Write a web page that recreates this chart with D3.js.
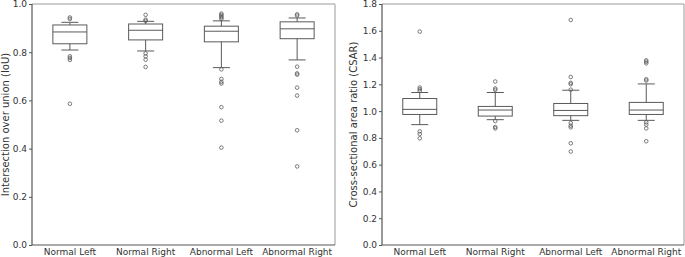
<!DOCTYPE html>
<html lang="en">
<head>
<meta charset="utf-8">
<title>IoU / CSAR boxplots</title>
<script src="https://d3js.org/d3.v7.min.js"></script>
<style>
  body { margin: 0; background: #fff; }
  svg text { font-family: "DejaVu Sans", sans-serif; }
  .tick text { fill: #333; font-size: 9px; }
  .axis path.domain { display: none; }
  .axis .tick line { stroke: #555; }
</style>
</head>
<body>
<script>
// categories
const groups = ["Normal Left", "Normal Right", "Abnormal Left", "Abnormal Right"];

// IoU: [lower whisker, Q1, median, Q3, upper whisker]
const iouStats = [
  [0.809, 0.835, 0.884, 0.913, 0.924],
  [0.805, 0.851, 0.891, 0.917, 0.928],
  [0.736, 0.843, 0.887, 0.908, 0.930],
  [0.768, 0.856, 0.897, 0.926, 0.942]
];
const iouOutliers = [
  [0.944, 0.938, 0.783, 0.776, 0.768, 0.586],
  [0.955, 0.935, 0.930, 0.795, 0.783, 0.769, 0.739],
  [0.960, 0.955, 0.949, 0.944, 0.938, 0.729, 0.689, 0.677, 0.670, 0.572, 0.516, 0.404],
  [0.957, 0.952, 0.740, 0.712, 0.707, 0.653, 0.620, 0.476, 0.326]
];

// CSAR
const csarStats = [
  [0.899, 0.975, 1.013, 1.094, 1.139],
  [0.936, 0.963, 1.008, 1.035, 1.139],
  [0.931, 0.966, 1.005, 1.057, 1.156],
  [0.931, 0.975, 1.008, 1.065, 1.203]
];
const csarOutliers = [
  [1.594, 1.176, 1.164, 1.151, 0.849, 0.829, 0.797],
  [1.221, 1.169, 1.159, 0.926, 0.881, 0.871],
  [1.681, 1.255, 1.211, 1.201, 1.160, 0.911, 0.891, 0.879, 0.760, 0.698],
  [1.379, 1.369, 1.357, 1.238, 1.228, 0.916, 0.899, 0.871, 0.775]
];

const iouTicks = [0, 0.2, 0.4, 0.6, 0.8, 1.0];
const csarTicks = [0, 0.2, 0.4, 0.6, 0.8, 1.0, 1.2, 1.4, 1.6, 1.8];

const W = 685, H = 257;
const svg = d3.select("body").append("svg")
  .attr("width", W).attr("height", H);

function boxPanel(x0, x1, yMax, ticks, stats, outliers, title, titleX) {
  const top = 4, bottom = 245;
  const x = d3.scaleBand().domain(groups).range([x0, x1]).padding(0);
  const y = d3.scaleLinear().domain([0, yMax]).range([bottom, top]);
  const g = svg.append("g");
  const boxW = 34, capW = 17;
  const col = "#5a5a5a";

  // frame
  g.append("line").attr("x1", x0).attr("x2", x1).attr("y1", top).attr("y2", top)
    .attr("stroke", "#bbb").attr("stroke-width", 1.5);
  g.append("line").attr("x1", x1).attr("x2", x1).attr("y1", top).attr("y2", bottom)
    .attr("stroke", "#bbb").attr("stroke-width", 1.5);

  groups.forEach((name, i) => {
    const cx = x(name) + x.bandwidth() / 2;
    const s = stats[i];
    const b = g.append("g");
    // whiskers
    b.append("line").attr("x1", cx).attr("x2", cx).attr("y1", y(s[0])).attr("y2", y(s[1]))
      .attr("stroke", col);
    b.append("line").attr("x1", cx).attr("x2", cx).attr("y1", y(s[3])).attr("y2", y(s[4]))
      .attr("stroke", col);
    // caps
    [s[0], s[4]].forEach(v => {
      b.append("line").attr("x1", cx - capW / 2).attr("x2", cx + capW / 2)
        .attr("y1", y(v)).attr("y2", y(v)).attr("stroke", col);
    });
    // box
    b.append("rect").attr("x", cx - boxW / 2).attr("width", boxW)
      .attr("y", y(s[3])).attr("height", y(s[1]) - y(s[3]))
      .attr("fill", "none").attr("stroke", col);
    // median
    b.append("line").attr("x1", cx - boxW / 2).attr("x2", cx + boxW / 2)
      .attr("y1", y(s[2])).attr("y2", y(s[2])).attr("stroke", col);
    // fliers
    b.selectAll("circle").data(outliers[i]).join("circle")
      .attr("cx", cx).attr("cy", d => y(d)).attr("r", 1.8)
      .attr("fill", "none").attr("stroke", col).attr("stroke-width", 0.8);
  });

  // axes
  g.append("g").attr("class", "axis")
    .attr("transform", `translate(${x0},0)`)
    .call(d3.axisLeft(y).tickValues(ticks).tickFormat(d3.format(".1f")).tickSize(3).tickPadding(2));
  g.append("g").attr("class", "axis")
    .attr("transform", `translate(0,${bottom})`)
    .call(d3.axisBottom(x).tickSize(0).tickPadding(4));

  g.append("line").attr("x1", x0).attr("x2", x0).attr("y1", top).attr("y2", bottom)
    .attr("stroke", "#555").attr("stroke-width", 1.2);
  g.append("line").attr("x1", x0).attr("x2", x1).attr("y1", bottom).attr("y2", bottom)
    .attr("stroke", "#555").attr("stroke-width", 1.2);

  g.append("text")
    .attr("transform", `translate(${titleX},${(top + bottom) / 2}) rotate(-90)`)
    .attr("text-anchor", "middle")
    .attr("font-size", "10px").attr("fill", "#333")
    .text(title);
}

boxPanel(32, 335, 1.0, iouTicks, iouStats, iouOutliers, "Intersection over union (IoU)", 9);
boxPanel(382, 684, 1.8, csarTicks, csarStats, csarOutliers, "Cross-sectional area ratio (CSAR)", 357);
</script>
</body>
</html>
